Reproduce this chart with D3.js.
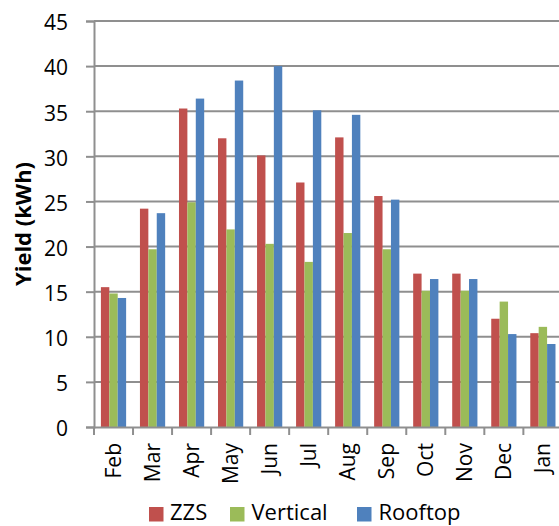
<!DOCTYPE html>
<html>
<head>
<meta charset="utf-8">
<script src="https://cdn.jsdelivr.net/npm/d3@7"></script>
<style>
  html, body { margin: 0; padding: 0; background: #fff; }
  svg { display: block; }
  text { font-family: "Open Sans", Lato, sans-serif; fill: #000; }
</style>
</head>
<body>
<svg id="chart" width="559" height="526"></svg>
<script>
// Monthly energy yield per installation type
const months = ["Feb", "Mar", "Apr", "May", "Jun", "Jul", "Aug", "Sep", "Oct", "Nov", "Dec", "Jan"];
const seriesNames = ["ZZS", "Vertical", "Rooftop"];
const zzs      = [15.5, 24.2, 35.3, 32.0, 30.1, 27.1, 32.1, 25.6, 17.0, 17.0, 12.0, 10.4];
const vertical = [14.8, 19.7, 24.9, 21.9, 20.3, 18.3, 21.5, 19.7, 15.1, 15.1, 13.9, 11.1];
const rooftop  = [14.3, 23.7, 36.4, 38.4, 40.0, 35.1, 34.6, 25.2, 16.4, 16.4, 10.3, 9.2];
const yTicks = [0, 5, 10, 15, 20, 25, 30, 35, 40, 45];
const colors = ["#C0504D", "#9BBB59", "#4F81BD"];

const seriesValues = [zzs, vertical, rooftop];
const rows = months.map((m, i) => ({
  month: m,
  values: seriesNames.map((s, k) => ({ series: s, value: seriesValues[k][i] }))
}));

const FONT = "'Open Sans', Lato, sans-serif";
const svg = d3.select("#chart");
const plotLeft = 94, plotRight = 562.4, plotTop = 21, plotBottom = 427;

const x = d3.scaleBand().domain(months).range([plotLeft, plotRight]).padding(0);
const inner = d3.scaleBand().domain(seriesNames)
  .range([x.bandwidth() * 0.177, x.bandwidth() * 0.823]).padding(0);
const y = d3.scaleLinear().domain([0, 45]).range([plotBottom, plotTop]);
const color = d3.scaleOrdinal().domain(seriesNames).range(colors);

// horizontal gridlines
svg.append("g").selectAll("line")
  .data(yTicks.filter(d => d > 0))
  .join("line")
  .attr("x1", plotLeft).attr("x2", 559)
  .attr("y1", d => y(d)).attr("y2", d => y(d))
  .attr("stroke", "#8f8f8f").attr("stroke-width", 2);

// bars
svg.append("g").selectAll("g")
  .data(rows)
  .join("g")
  .attr("transform", d => `translate(${x(d.month)},0)`)
  .selectAll("rect")
  .data(d => d.values)
  .join("rect")
  .attr("x", d => inner(d.series))
  .attr("width", inner.bandwidth())
  .attr("y", d => y(d.value))
  .attr("height", d => y(0) - y(d.value))
  .attr("fill", d => color(d.series));

// y axis
const yAxis = svg.append("g")
  .attr("transform", `translate(${plotLeft},0)`)
  .call(d3.axisLeft(y).tickValues(yTicks).tickSize(8).tickPadding(18));
yAxis.select(".domain").attr("stroke", "#8f8f8f").attr("stroke-width", 2);
yAxis.selectAll(".tick line").attr("stroke", "#8f8f8f").attr("stroke-width", 2);
yAxis.selectAll(".tick text")
  .style("font-family", FONT).style("font-size", "21px").attr("fill", "#000")
  .attr("dy", "0.42em");

// x axis
const xAxis = svg.append("g")
  .attr("transform", `translate(0,${plotBottom})`)
  .call(d3.axisBottom(x).tickSize(0).tickPadding(0));
xAxis.select(".domain").attr("stroke", "#8f8f8f").attr("stroke-width", 2);
xAxis.selectAll(".tick text")
  .style("font-family", FONT).style("font-size", "21px").attr("fill", "#000")
  .attr("transform", "rotate(-90)")
  .attr("text-anchor", "end")
  .attr("x", -16).attr("y", 0).attr("dy", "0.36em");
// category separator ticks
svg.append("g").selectAll("line")
  .data(months.concat(["_end"]))
  .join("line")
  .attr("x1", (d, i) => plotLeft + i * x.step()).attr("x2", (d, i) => plotLeft + i * x.step())
  .attr("y1", plotBottom).attr("y2", plotBottom + 8)
  .attr("stroke", "#8f8f8f").attr("stroke-width", 2);

// y axis title
svg.append("text")
  .attr("transform", `translate(31,${(plotTop + plotBottom) / 2}) rotate(-90)`)
  .attr("text-anchor", "middle")
  .style("font-family", FONT)
  .style("font-size", "22px").style("font-weight", "bold")
  .text("Yield (kWh)");

// legend
const legendX = [149, 230, 357];
const legend = svg.append("g").selectAll("g")
  .data(seriesNames)
  .join("g")
  .attr("transform", (d, i) => `translate(${legendX[i]},507)`);
legend.append("rect").attr("width", 14.5).attr("height", 14.5).attr("fill", d => color(d));
legend.append("text").attr("x", (d, i) => i === 0 ? 21 : 21.5).attr("y", 13)
  .style("font-family", FONT).style("font-size", "22px").text(d => d);
</script>
</body>
</html>
